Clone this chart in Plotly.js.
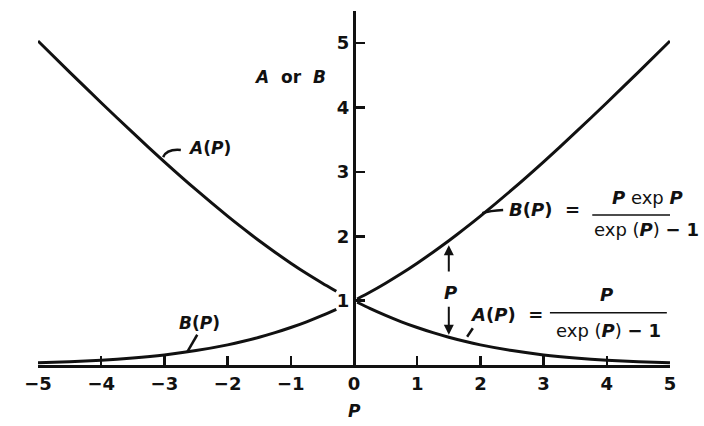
<!DOCTYPE html>
<html>
<head>
<meta charset="utf-8">
<script src="https://cdn.plot.ly/plotly-3.0.1.min.js"></script>
<style>
  html, body { margin: 0; padding: 0; background: #fff; }
  #chart { width: 704px; height: 426px; }
</style>
</head>
<body>
<div id="chart"></div>
<script>
// Peclet-number weighting functions A(P) and B(P), sampled values
const pNeg = [-5, -4.5, -4, -3.5, -3, -2.5, -2, -1.75, -1.5, -1.25, -1, -0.75, -0.5, -0.28];
const aNeg = [5.034, 4.551, 4.075, 3.609, 3.157, 2.724, 2.313, 2.118, 1.931, 1.752, 1.582, 1.421, 1.271, 1.146];
const bNeg = [0.034, 0.051, 0.075, 0.109, 0.157, 0.224, 0.313, 0.368, 0.431, 0.502, 0.582, 0.671, 0.771, 0.866];

const pPos = [0.05, 0.25, 0.5, 0.75, 1, 1.25, 1.5, 1.75, 2, 2.5, 3, 3.5, 4, 4.5, 5];
const aPos = [0.975, 0.880, 0.771, 0.671, 0.582, 0.502, 0.431, 0.368, 0.313, 0.224, 0.157, 0.109, 0.075, 0.051, 0.034];
const bPos = [1.025, 1.130, 1.271, 1.421, 1.582, 1.752, 1.931, 2.118, 2.313, 2.724, 3.157, 3.609, 4.075, 4.551, 5.034];

const xTicks = [-5, -4, -3, -2, -1, 0, 1, 2, 3, 4, 5];
const yTicks = [1, 2, 3, 4, 5];

const ink = '#111';
const fam = '"DejaVu Sans", "Liberation Sans", Arial, sans-serif';

function curve(x, y) {
  return {
    x: x, y: y, type: 'scatter', mode: 'lines',
    line: { color: ink, width: 3, shape: 'spline', smoothing: 0.6 },
    cliponaxis: false, hoverinfo: 'skip', showlegend: false
  };
}

const traces = [
  curve(pNeg, aNeg),
  curve(pNeg, bNeg),
  curve(pPos, aPos),
  curve(pPos, bPos)
];

function label(x, y, text, size, anchor) {
  return {
    x: x, y: y, xref: 'x', yref: 'y', text: text, showarrow: false,
    font: { family: fam, size: size || 17, color: ink },
    xanchor: anchor || 'center', yanchor: 'middle'
  };
}

const denom = 'exp (<b><i>P</i></b>) <b>−</b> <b>1</b>';

const annotations = [
  // x-axis name, set below the tick labels
  {
    x: 0, y: -0.13, xref: 'x', yref: 'paper', text: '<b><i>P</i></b>', showarrow: false,
    font: { family: fam, size: 17, color: ink }, xanchor: 'center', yanchor: 'middle'
  },
  label(-1.01, 4.47, '<b><i>A</i>&nbsp; or&nbsp; <i>B</i></b>', 17),
  label(-2.28, 3.37, '<b><i>A</i>(<i>P</i>)</b>'),
  label(-2.44, 0.65, '<b><i>B</i>(<i>P</i>)</b>'),
  // B(P) definition
  label(3.02, 2.41, '<b><i>B</i>(<i>P</i>)&nbsp; =</b>', 18),
  label(4.64, 2.61, '<b><i>P</i></b> exp <b><i>P</i></b>', 18),
  label(3.76, 2.10, denom, 18, 'left'),
  // A(P) definition
  label(2.41, 0.78, '<b><i>A</i>(<i>P</i>)&nbsp; =</b>', 18),
  label(4.00, 1.09, '<b><i>P</i></b>', 18),
  label(4.02, 0.54, denom, 18),
  // gap between the curves equals P
  label(1.52, 1.13, '<b><i>P</i></b>', 18),
  {
    x: 1.5, y: 1.86, xref: 'x', yref: 'y', ax: 1.5, ay: 1.43, axref: 'x', ayref: 'y',
    text: '', showarrow: true, arrowhead: 2, arrowsize: 1, arrowwidth: 2, arrowcolor: ink
  },
  {
    x: 1.5, y: 0.47, xref: 'x', yref: 'y', ax: 1.5, ay: 0.93, axref: 'x', ayref: 'y',
    text: '', showarrow: true, arrowhead: 2, arrowsize: 1, arrowwidth: 2, arrowcolor: ink
  }
];

const leader = { color: ink, width: 2.5 };
const shapes = [
  // leaders from curves to their labels
  { type: 'path', xref: 'x', yref: 'y', path: 'M -3.02,3.23 Q -2.96,3.36 -2.74,3.34', line: leader },
  { type: 'line', xref: 'x', yref: 'y', x0: -2.64, y0: 0.20, x1: -2.48, y1: 0.47, line: leader },
  { type: 'path', xref: 'x', yref: 'y', path: 'M 2.03,2.36 Q 2.15,2.40 2.36,2.41', line: leader },
  { type: 'line', xref: 'x', yref: 'y', x0: 1.79, y0: 0.44, x1: 1.88, y1: 0.57, line: leader },
  // fraction bars
  { type: 'line', xref: 'x', yref: 'y', x0: 3.77, y0: 2.33, x1: 5.6, y1: 2.33, line: { color: ink, width: 1.5 } },
  { type: 'line', xref: 'x', yref: 'y', x0: 3.10, y0: 0.81, x1: 4.95, y1: 0.81, line: { color: ink, width: 1.5 } }
];

const layout = {
  width: 704, height: 426,
  margin: { l: 38, r: 34, t: 11, b: 61 },
  paper_bgcolor: '#fff', plot_bgcolor: '#fff',
  showlegend: false,
  font: { family: fam, color: ink },
  xaxis: {
    range: [-5, 5], tickvals: xTicks, ticks: 'inside', ticklen: 9, tickwidth: 2.5, tickcolor: ink,
    showline: true, linewidth: 3, linecolor: ink, showgrid: false, zeroline: false,
    tickfont: { family: fam, size: 18, weight: 'bold', color: ink }
  },
  yaxis: {
    range: [0, 5.5], tickvals: yTicks, ticks: 'inside', ticklen: 9, tickwidth: 2.5, tickcolor: ink,
    anchor: 'free', position: 0.5, side: 'left',
    showline: true, linewidth: 3, linecolor: ink, showgrid: false, zeroline: false,
    tickfont: { family: fam, size: 18, weight: 'bold', color: ink }
  },
  annotations: annotations,
  shapes: shapes
};

Plotly.newPlot('chart', traces, layout, { staticPlot: true, displayModeBar: false });
</script>
</body>
</html>
